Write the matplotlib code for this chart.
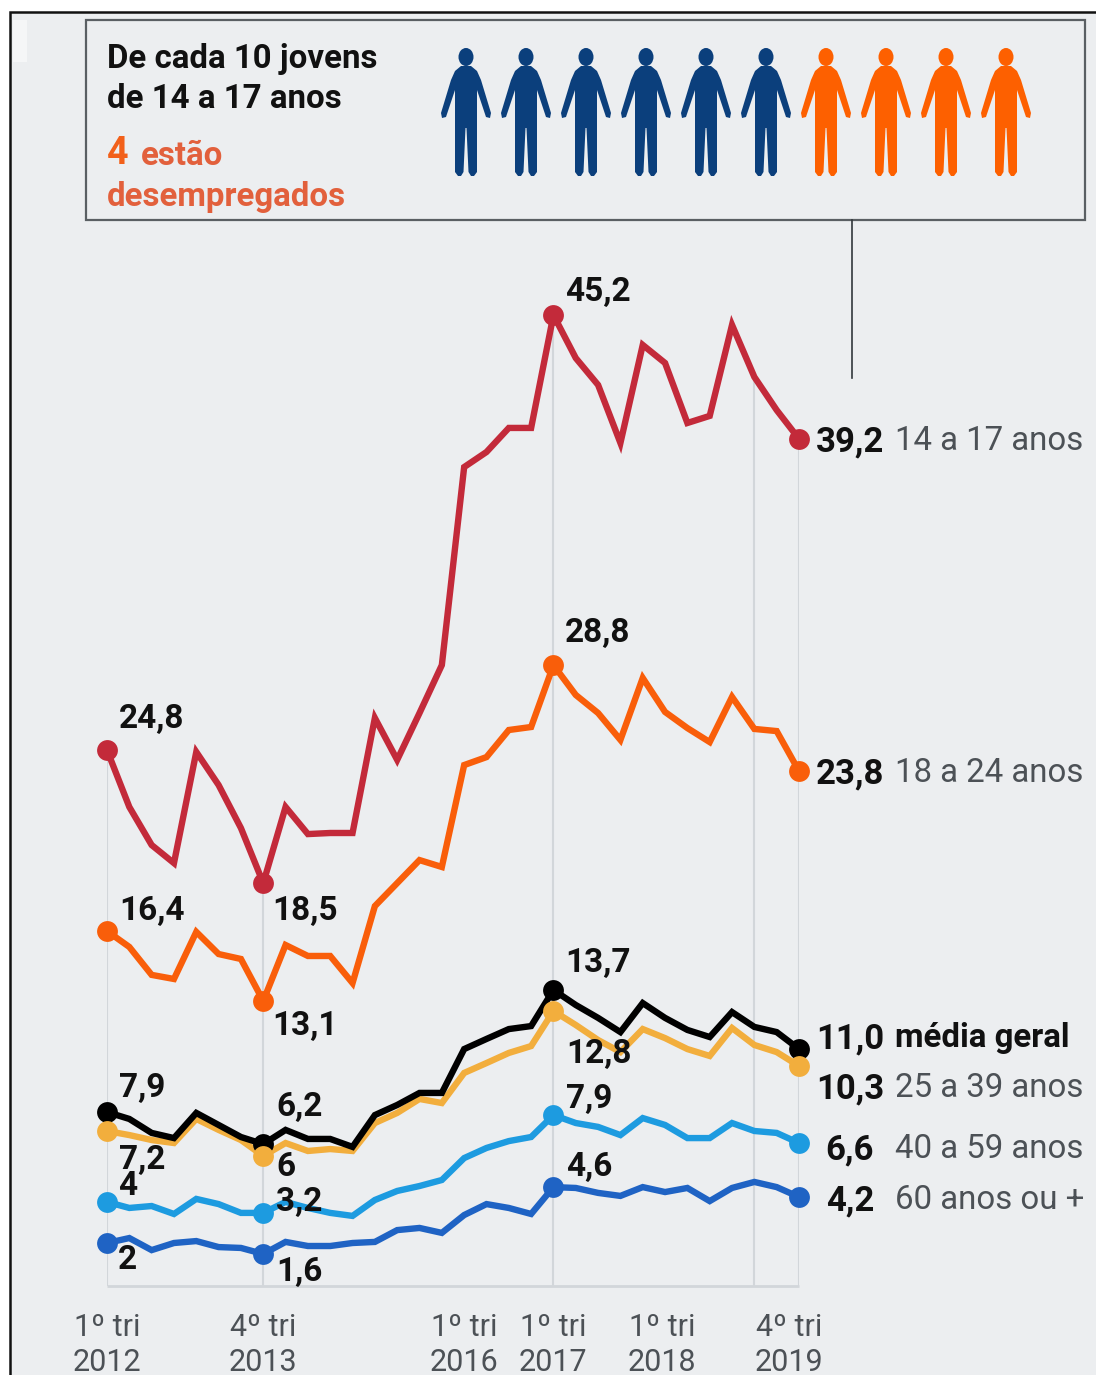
#!/usr/bin/env python3
"""Desemprego por faixa etaria, 1o tri 2012 a 4o tri 2019."""

import matplotlib

matplotlib.use("Agg")
import matplotlib.pyplot as plt
from matplotlib.patches import Ellipse, Polygon, Rectangle

BG = "#eceef0"
GRID = "#d2d6da"
GRAY = "#4c5156"

# one value per quarter, 32 quarters
a14_17 = [24.93, 22.28, 20.51, 19.67, 24.84, 23.30, 21.30, 18.74, 22.28, 21.02, 21.07, 21.07,
          26.42, 24.47, 26.65, 28.88, 38.09, 38.79, 39.91, 39.91, 45.16, 43.16, 41.91, 39.21,
          43.77, 42.93, 40.14, 40.47, 44.70, 42.28, 40.74, 39.40]
a18_24 = [16.51, 15.77, 14.47, 14.28, 16.47, 15.44, 15.21, 13.26, 15.86, 15.35, 15.35, 14.09,
          17.67, 18.74, 19.81, 19.49, 24.23, 24.60, 25.86, 26.00, 28.88, 27.49, 26.65, 25.40,
          28.28, 26.70, 25.95, 25.30, 27.40, 25.91, 25.81, 23.95]
media = [8.09, 7.77, 7.12, 6.88, 8.05, 7.49, 6.93, 6.60, 7.26, 6.84, 6.84, 6.47,
         7.95, 8.42, 8.98, 8.98, 11.02, 11.49, 11.95, 12.09, 13.77, 13.07, 12.47, 11.81,
         13.16, 12.47, 11.91, 11.58, 12.74, 12.05, 11.81, 11.02]
a25_39 = [7.21, 7.02, 6.79, 6.65, 7.77, 7.26, 6.79, 6.05, 6.65, 6.28, 6.37, 6.28,
          7.58, 8.05, 8.70, 8.51, 9.91, 10.37, 10.84, 11.16, 12.79, 12.14, 11.44, 10.88,
          11.95, 11.53, 11.02, 10.70, 12.00, 11.21, 10.88, 10.23]
a40_59 = [3.91, 3.63, 3.72, 3.35, 4.05, 3.81, 3.40, 3.40, 3.91, 3.63, 3.40, 3.26,
          4.00, 4.42, 4.65, 4.93, 5.95, 6.42, 6.74, 6.93, 7.95, 7.58, 7.40, 7.02,
          7.81, 7.49, 6.88, 6.88, 7.58, 7.21, 7.12, 6.65]
a60 = [2.00, 2.23, 1.67, 2.00, 2.09, 1.81, 1.77, 1.49, 2.05, 1.86, 1.86, 2.00,
       2.05, 2.60, 2.70, 2.47, 3.30, 3.81, 3.63, 3.35, 4.60, 4.56, 4.33, 4.19,
       4.60, 4.37, 4.56, 3.95, 4.56, 4.84, 4.60, 4.14]

marked = [0, 7, 20, 31]
grid_at = [0, 7, 20, 29, 31]

n_people = 10
n_jobless = 4

# (text, left px, centre px)
point_labels = [
    ("24,8", 119, 719), ("16,4", 119, 911), ("18,5", 272, 911), ("13,1", 272, 1026),
    ("7,9", 119, 1088), ("7,2", 119, 1160), ("4", 118, 1186), ("2", 118, 1260),
    ("6,2", 276, 1107), ("6", 276, 1167), ("3,2", 276, 1202), ("1,6", 276, 1272),
    ("45,2", 565, 292), ("28,8", 565, 633), ("13,7", 565, 963), ("12,8", 566, 1054),
    ("7,9", 566, 1099), ("4,6", 566, 1167),
]
# (value, value right px, group, group centre px)
end_labels = [
    ("39,2", 884, "14 a 17 anos", 441), ("23,8", 884, "18 a 24 anos", 773),
    ("11,0", 884, "média geral", 1038), ("10,3", 884, "25 a 39 anos", 1088),
    ("6,6", 874, "40 a 59 anos", 1149), ("4,2", 874, "60 anos ou +", 1200),
]
tick_labels = [("1º tri\n2012", 107), ("4º tri\n2013", 263), ("1º tri\n2016", 464),
               ("1º tri\n2017", 553), ("1º tri\n2018", 662), ("4º tri\n2019", 789)]

# person outline, px relative to the centre line
body = [(-5, 66), (5, 66), (11, 71), (15, 80), (25, 113), (24, 118), (20, 117), (11, 90),
        (11, 122), (11, 172), (8, 176), (5, 176), (2.5, 172), (0.5, 128), (-0.5, 128),
        (-2.5, 172), (-5, 176), (-8, 176), (-11, 172), (-11, 122), (-11, 90), (-20, 117),
        (-24, 118), (-25, 113), (-15, 80), (-11, 71)]


def draw_people(over):
    for i in range(n_people):
        cx = 466 + 60 * i
        color = "#0b3f7c" if i < n_people - n_jobless else "#fd6000"
        over.add_patch(Ellipse((cx, 57), 15, 18, color=color, lw=0))
        over.add_patch(Polygon([(cx + x, y) for x, y in body], closed=True, color=color, lw=0))


def main():
    plt.rcParams["font.family"] = ["Roboto", "DejaVu Sans"]
    fig = plt.figure(figsize=(10.96, 13.75), dpi=100, facecolor="white")

    # pixel overlay for frame, box and texts
    back = fig.add_axes([0, 0, 1, 1], zorder=0)
    back.set_xlim(0, 1096)
    back.set_ylim(1375, 0)
    back.axis("off")
    back.add_patch(Rectangle((10, 12), 1090, 1370, fc=BG, ec="#111111", lw=1.8))
    back.add_patch(Rectangle((13, 20), 14, 42, fc="#f5f6f7", ec="none"))

    ax = fig.add_axes([107 / 1096, 1 - 1286 / 1375, 692 / 1096, 1036 / 1375], zorder=1)
    ax.set_xlim(0, 31)
    ax.set_ylim(0, 1036 / 21.5)
    ax.axis("off")

    for idx in grid_at:
        ax.vlines(idx, 0, a14_17[idx], color=GRID, lw=1.5, zorder=1)
    ax.hlines(0, 0, 31, color=GRID, lw=2, zorder=1, clip_on=False)

    x = list(range(32))
    lines = [(a14_17, "#c32a3a"), (a18_24, "#f95e0a"), (a60, "#1f63c4"), (a40_59, "#1d9be0"),
             (a25_39, "#f2ae3d"), (media, "#000000")]
    for z, (y, color) in enumerate(lines):
        ax.plot(x, y, color=color, lw=4.6, zorder=3 + z, clip_on=False,
                solid_joinstyle="miter", solid_capstyle="round")
    for z, (y, color) in zip([9, 10, 11, 12, 14, 13], lines):
        ax.plot([x[i] for i in marked], [y[i] for i in marked], "o", color=color, ms=15,
                mew=0, zorder=z, clip_on=False)

    over = fig.add_axes([0, 0, 1, 1], zorder=2)
    over.set_xlim(0, 1096)
    over.set_ylim(1375, 0)
    over.axis("off")
    over.patch.set_alpha(0)

    over.add_patch(Rectangle((86, 20), 999, 200, fill=False, ec="#5a5f63", lw=1.6))
    over.plot([852, 852], [220, 378], color="#33383c", lw=1.2)
    draw_people(over)

    over.text(107, 59, "De cada 10 jovens", fontsize=23.8, fontweight="bold", va="center", color="#111111")
    over.text(107, 99, "de 14 a 17 anos", fontsize=23.8, fontweight="bold", va="center", color="#111111")
    over.text(107, 153, "4", fontsize=27, fontweight="bold", va="center", color="#f2601a")
    over.text(141, 156, "estão", fontsize=23.8, fontweight="bold", va="center", color="#e2603c")
    over.text(107, 197, "desempregados", fontsize=23.8, fontweight="bold", va="center", color="#e2603c")

    for text, px, py in point_labels:
        over.text(px, py, text, fontsize=24, fontweight="bold", va="center", color="#111111", zorder=20)
    for value, right, group, py in end_labels:
        over.text(right, py + 1, value, fontsize=25, fontweight="bold", ha="right", va="center", color="#111111")
        is_mean = group == "média geral"
        over.text(895, py, group, fontsize=23.8, va="center", color="#111111" if is_mean else GRAY,
                  fontweight="bold" if is_mean else "normal")
    for text, px in tick_labels:
        over.text(px, 1345, text, fontsize=22, ha="center", va="center", color=GRAY, linespacing=1.25)

    fig.savefig("out.png", dpi=100, facecolor="white")


if __name__ == "__main__":
    main()
